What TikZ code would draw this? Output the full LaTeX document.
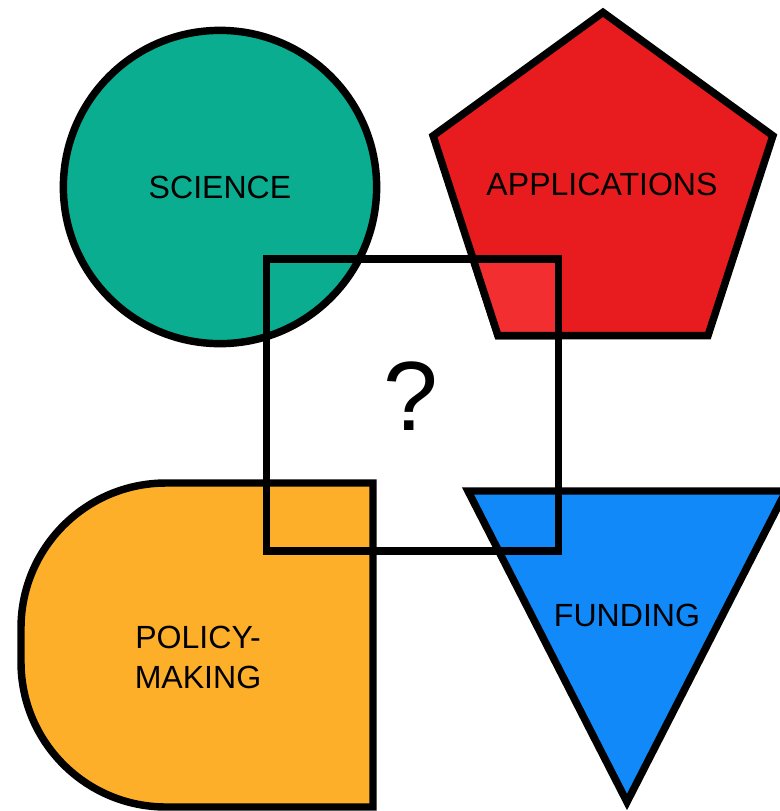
\documentclass[tikz,border=0pt]{standalone}
\usepackage{fontspec}
\setmainfont{Liberation Sans}
\usepackage{tikz}
\usetikzlibrary{shapes.geometric}
\definecolor{scigreen}{RGB}{10,173,143}
\definecolor{appred}{RGB}{232,28,30}
\definecolor{appredlight}{RGB}{242,46,48}
\definecolor{polorange}{RGB}{253,175,41}
\definecolor{fundblue}{RGB}{17,137,249}

\begin{document}
\begin{tikzpicture}[x=0.025cm,y=-0.025cm,line width=5.3pt,
  lbl/.style={font=\fontsize{22.8}{28.4}\selectfont, align=center},
  pent/.style={draw, regular polygon, regular polygon sides=5, minimum size=8.93cm, inner sep=0pt}]
\useasboundingbox (0,0) rectangle (779,811);
\node[draw, circle, fill=scigreen, minimum size=7.83cm, lbl] (sci) at (220,187) {SCIENCE};
\node[pent, fill=appred] (app) at (603,191) {};
\draw[fill=polorange] (373,483) -- (166,483) arc (270:180:145) -- (21,662) arc (180:90:145) -- (373,807) -- cycle;
\draw[fill=fundblue, line join=miter] (468,491) -- (786,491) -- (627,802) -- cycle;
% lighter red where the square lies on the pentagon
\begin{scope}
\clip (267,259) rectangle (558,551);
\node[pent, fill=appredlight] at (603,191) {};
\end{scope}
\node[draw, rectangle, minimum size=7.3cm] (q) at (412.5,405) {};
\node[font=\fontsize{70}{70}\selectfont] (qm) at (411,396) {?};
\node[lbl] (apptxt) at (602,184) {APPLICATIONS};
\node[lbl] (pol) at (198,657) {POLICY-\\MAKING};
\node[lbl] (fund) at (627,615) {FUNDING};
\end{tikzpicture}
\end{document}
